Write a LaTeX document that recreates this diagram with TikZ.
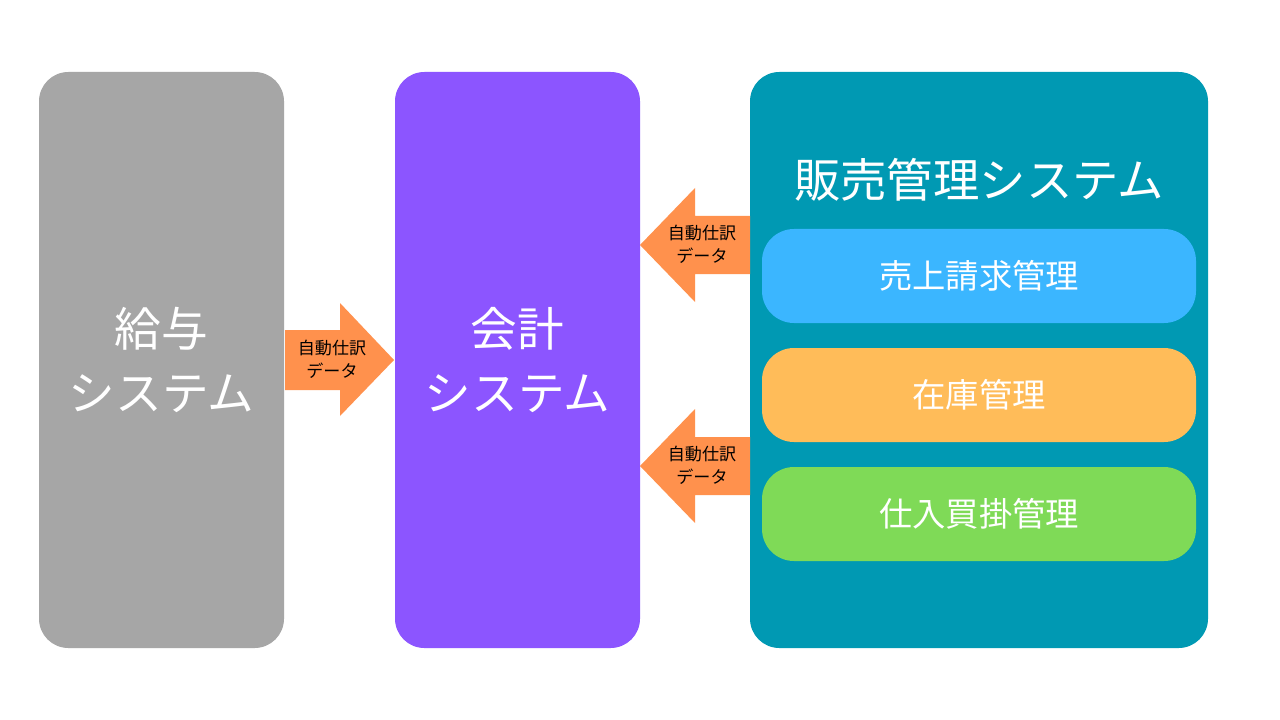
\documentclass[tikz,border=0pt]{standalone}
\usepackage{fontspec}
\setmainfont{Noto Sans CJK JP}
\begin{document}
\begin{tikzpicture}[x=0.75pt,y=-0.75pt,
  sysbox/.style={rounded corners=22pt},
  subbox/.style={rounded corners=24pt},
  bigtxt/.style={text=white,font=\fontsize{35}{48}\selectfont,align=center},
  titletxt/.style={text=white,font=\fontsize{34.8}{48}\selectfont},
  subtxt/.style={text=white,font=\fontsize{25}{30}\selectfont},
  arrtxt/.style={text=black,font=\fontsize{12.8}{17.5}\selectfont,align=center},
  arrfill/.style={fill=arrowc}]
\definecolor{grayc}{HTML}{A6A6A6}
\definecolor{purplec}{HTML}{8C55FF}
\definecolor{tealc}{HTML}{0099B3}
\definecolor{bluec}{HTML}{3BB6FF}
\definecolor{orangec}{HTML}{FFBC59}
\definecolor{greenc}{HTML}{7FDA57}
\definecolor{arrowc}{HTML}{FF914D}
\useasboundingbox (0,0) rectangle (1280,720);
\fill[white] (0,0) rectangle (1280,720);
% system boxes
\fill[grayc,sysbox] (39,72) rectangle (284,648);
\fill[purplec,sysbox] (395,72) rectangle (640,648);
\fill[tealc,sysbox] (750,72) rectangle (1208,648);
\node[bigtxt] (kyuyo) at (161.5,360) {給与\\システム};
\node[bigtxt] (kaikei) at (517.5,360) {会計\\システム};
\node[titletxt] (hanbai) at (979,180) {販売管理システム};
% sub boxes
\fill[bluec,subbox] (762,229) rectangle (1196,323);
\fill[orangec,subbox] (762,348) rectangle (1196,442);
\fill[greenc,subbox] (762,467) rectangle (1196,561);
\node[subtxt] (uriage) at (979,276) {売上請求管理};
\node[subtxt] (zaiko) at (979,395) {在庫管理};
\node[subtxt] (shiire) at (979,514) {仕入買掛管理};
% arrows
\fill[arrfill] (285,330) -- (340,330) -- (340,303) -- (394,360) -- (340,416) -- (340,390) -- (285,390) -- cycle;
\node[arrtxt] (a1) at (332,359) {自動仕訳\\データ};
\fill[arrfill] (750,216) -- (695,216) -- (695,188) -- (640,245) -- (695,302) -- (695,274) -- (750,274) -- cycle;
\node[arrtxt] (a2) at (702,244) {自動仕訳\\データ};
\fill[arrfill] (750,437) -- (695,437) -- (695,409) -- (640,466) -- (695,523) -- (695,495) -- (750,495) -- cycle;
\node[arrtxt] (a3) at (702,465) {自動仕訳\\データ};
\end{tikzpicture}
\end{document}
